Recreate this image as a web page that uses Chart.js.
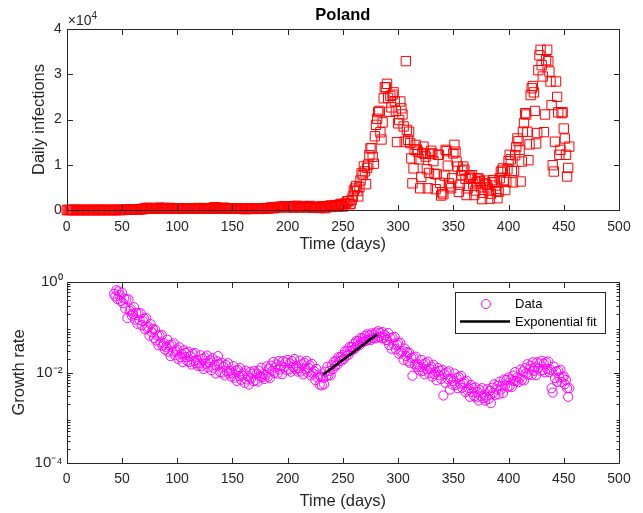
<!DOCTYPE html>
<html lang="en">
<head>
<meta charset="UTF-8">
<title>Poland - daily infections and growth rate</title>
<script src="https://cdn.jsdelivr.net/npm/chart.js@4.4.0/dist/chart.umd.min.js"></script>
<style>
  * { margin:0; padding:0; box-sizing:border-box; }
  body { width:643px; height:513px; background:#fff; position:relative; overflow:hidden; }
  canvas { position:absolute; left:0; }
  #chartCases { top:0; }
  #chartGrowth { top:258px; }
</style>
</head>
<body>
<canvas id="chartCases" width="643" height="258"></canvas>
<canvas id="chartGrowth" width="643" height="255"></canvas>

<script>
// ---- data ----
// daily infections, one value per day starting at day 0
const casesStart = 0;
const cases = [
  0,0,0,0,0,0,0,0,0,0, 0,0,0,0,0,0,0,0,0,0, 0,0,0,0,0,0,0,0,0,0, 0,0,0,0,0,0,0,0,0,0, 0,0,
  1,0,4,1,5,6,5,11,17,19,21,35,52,61,49,46,37,85,115,152,150,98,115,152,170,168,224,193,
  243,392,437,244,475,311,435,357,370,380,268,318,260,336,545,306,263,380,285,461,363,313,263,381,460,285,376,334,248,300,
  300,345,381,325,307,314,403,330,316,310,350,308,268,300,280,396,330,395,315,443,320,272,416,342,292,397,310,313,299,274,300,
  380,292,576,599,575,350,400,282,395,349,370,506,460,392,294,300,262,250,280,301,331,381,305,318,294,272,359,301,282,230,
  240,217,230,300,307,300,299,232,253,268,339,263,299,284,229,358,305,270,318,297,352,373,426,402,584,512,443,410,615,657,586,
  680,658,640,726,743,809,809,602,587,843,832,750,644,575,594,738,903,887,800,549,596,729,832,857,750,601,597,791,900,710,550,
  500,555,624,698,713,527,436,613,757,848,600,400,650,700,800,900,1000,650,700,900,1100,1000,1000,750,1140,1370,1210,
  760,1330,1330,1550,1940,1930,1310,
  1330,2240,3000,4280,4740,5300,4180,
  3000,5070,6530,8100,7710,9620,8540,
  5710,9290,10040,12110,13630,13630,11740,
  10240,16300,18820,20160,21630,21900,17170,
  15580,19360,24690,27140,27090,27880,24790,
  21710,25220,22680,25490,26000,24050,21850,
  15000,19150,19880,23980,22460,21130,18470,
  15100,32900,17700,15500,17300,14800,11400,
  5900,9200,13300,14400,13400,12900,11200,
  4800,7300,12600,14000,12400,11800,9000,
  4800,8200,12400,13100,12500,10800,8000,
  4600,7900,12200,12200,6000,3200,3900,
  3500,7600,13300,13000,9800,5900,5200,
  4800,7000,12500,14400,12900,10700,9600,
  4000,5600,7700,8700,9600,8900,6900,
  3300,4800,6900,7400,7100,7700,5700,
  3300,4300,6100,7000,6900,6400,5000,
  2400,3800,6500,5900,5600,5000,4300,
  2500,3600,6100,6600,6200,5400,4200,
  2600,4000,7000,8400,8700,9200,6600,
  4400,6200,9000,10800,12200,11200,8600,
  6100,8600,12100,13900,15800,15200,13300,
  6300,10700,17300,19200,21400,21100,17300,
  11000,14500,25400,26900,27400,26000,21900,
  14700,17000,30900,34200,35400,32000,29500,
  17200,21100,33100,35400,32900,30600,28400,
  23200,9900,8500,15100,28400,25000,21600,
  12200,13300,21400,21600,18000,15800,12200,
  7400,9300,14000
];

// growth rate, one value per day starting at day 43
const growthStart = 43;
const growth = [
  0.55,0.48,0.66,0.42,0.62,0.52,0.38,
  0.58,0.34,0.43,0.26,0.42,0.16,0.41,0.23,0.25,0.18,
  0.198,0.277,0.148,0.207,0.119,0.205,0.143,0.203,0.111,0.137,
  0.156,0.09,0.159,0.095,0.102,0.065,0.117,0.078,0.092,0.058,
  0.088,0.051,0.066,0.04,0.066,0.046,0.067,0.039,0.044,0.032,
  0.037,0.053,0.029,0.04,0.023,0.041,0.029,0.044,0.024,0.029,
  0.032,0.02,0.036,0.022,0.026,0.017,0.031,0.022,0.027,0.018,
  0.029,0.017,0.023,0.015,0.026,0.018,0.027,0.016,0.019,0.014,
  0.016,0.024,0.0137,0.02,0.0119,0.0215,0.0157,0.0236,0.0131,0.0166,
  0.0186,0.0112,0.0206,0.0128,0.0146,0.0095,0.0178,0.023,0.0155,0.0102,
  0.0164,0.0099,0.0134,0.0086,0.0148,0.0107,0.016,0.0095,0.011,0.0081,
  0.0095,0.0138,0.0077,0.011,0.0065,0.0115,0.0084,0.0125,0.0069,0.0086,
  0.0096,0.0059,0.011,0.007,0.0082,0.0054,0.0104,0.0074,0.0094,0.0064,
  0.0108,0.0067,0.0094,0.0063,0.011,0.0083,0.0127,0.0079,0.0094,0.0072,
  0.0088,0.0136,0.008,0.0122,0.0076,0.0142,0.0108,0.017,0.0098,0.0129,
  0.0151,0.0095,0.0179,0.0116,0.0137,0.0092,0.0179,0.013,0.0166,0.0114,
  0.0189,0.0116,0.016,0.0104,0.0179,0.0132,0.0199,0.012,0.0141,0.0105,
  0.0124,0.0184,0.0105,0.0152,0.0091,0.0164,0.012,0.018,0.01,0.0126,
  0.0144,0.0086,0.0155,0.0095,0.0106,0.0068,0.012,0.0078,0.009,0.0054,
  0.0081,0.0052,0.0077,0.0055,0.0104,0.0083,0.0134,0.0087,0.0108,0.0086,
  0.0144,0.0119,0.0174,0.014,0.0182,0.0149,0.0218,0.0179,0.0221,0.0183,
  0.0242,0.0202,0.0294,0.0234,0.0303,0.0247,0.0366,0.0299,0.0367,0.0313,
  0.0426,0.0343,0.0492,0.0387,0.0495,0.04,0.0578,0.0469,0.0572,0.0479,
  0.0644,0.0502,0.0696,0.0531,0.066,0.0519,0.0732,0.058,0.0691,0.0566,
  0.0759,0.059,0.0816,0.0612,0.0748,0.057,0.0779,0.0589,0.067,0.0522,
  0.0522,0.0743,0.0406,0.0575,0.0336,0.0589,0.0418,0.0609,0.0328,0.041,
  0.0456,0.0259,0.0455,0.0273,0.0296,0.019,0.0338,0.0233,0.0283,0.0176,
  0.0273,0.016,0.0209,0.0085,0.0215,0.0152,0.0224,0.0132,0.015,0.0111,
  0.0131,0.019,0.0107,0.0153,0.0091,0.0161,0.0117,0.0174,0.0096,0.012,
  0.0134,0.0081,0.0148,0.0092,0.0104,0.0067,0.0126,0.0087,0.0109,0.0072,
  0.0114,0.0031,0.0092,0.0059,0.01,0.0072,0.0106,0.0042,0.0073,0.0054,
  0.0065,0.0095,0.0053,0.0076,0.0045,0.0079,0.0057,0.0084,0.0046,0.0057,
  0.0062,0.0037,0.0066,0.004,0.0045,0.0029,0.0053,0.0037,0.0045,0.003,
  0.0047,0.0028,0.0037,0.0024,0.0041,0.003,0.0045,0.0027,0.0032,0.0024,
  0.0029,0.0043,0.0026,0.0039,0.0021,0.0046,0.0035,0.0055,0.0032,0.0042,
  0.005,0.0033,0.0063,0.0042,0.0051,0.0035,0.007,0.0052,0.0068,0.0047,
  0.0078,0.005,0.007,0.0048,0.0085,0.0065,0.0102,0.0065,0.0078,0.0061,
  0.0075,0.0116,0.0069,0.0106,0.0067,0.0125,0.0096,0.0152,0.0089,0.0118,
  0.0142,0.0089,0.0168,0.0109,0.0129,0.0087,0.0169,0.0123,0.0158,0.0109,
  0.0182,0.0114,0.0156,0.0101,0.0169,0.012,0.0175,0.0102,0.0115,0.0045,
  0.0036,0.0135,0.0075,0.0106,0.0062,0.0109,0.0078,0.0115,0.0062,0.0078,
  0.0082,0.0055,0.0068,0.0045,0.0029,0.0045
];

// exponential fit (a straight line on the log axis)
const fitDays = [232, 281];
const fitRate = [0.0089, 0.0697];

const caseTicks = [0, 10000, 20000, 30000, 40000];
const rateTicks = [1e-4, 1e-2, 1];
const rateTickLabels = ['10⁻⁴', '10⁻²', '10⁰'];

// ---- styling helpers ----
const FONT = "'Liberation Sans', Arial, Helvetica, sans-serif";
const AXIS = '#262626';
Chart.defaults.font.family = FONT;
Chart.defaults.color = AXIS;
Chart.defaults.animation = false;

// minor ticks of the log axis (2..9 x each decade)
const minorRate = [];
for (let e = -4; e < 0; e++) for (let k = 2; k < 10; k++) minorRate.push(k * Math.pow(10, e));

// matlab style box with inward ticks
const boxTicks = {
  id: 'boxTicks',
  afterDatasetsDraw(chart, args, o) {
    const {ctx, chartArea:a, scales:{x, y}} = chart;
    const L = Math.round(a.left)+0.5, R = Math.round(a.right)+0.5, T = Math.round(a.top)+0.5, B = Math.round(a.bottom)+0.5;
    ctx.save();
    ctx.strokeStyle = AXIS; ctx.lineWidth = 1;
    ctx.beginPath();
    ctx.rect(L, T, R-L, B-T);
    x.ticks.forEach(t => {
      const p = Math.round(x.getPixelForValue(t.value))+0.5;
      ctx.moveTo(p, B); ctx.lineTo(p, B-5.5);
      ctx.moveTo(p, T); ctx.lineTo(p, T+5.5);
    });
    y.ticks.forEach(t => {
      const p = Math.round(y.getPixelForValue(t.value))+0.5;
      ctx.moveTo(L, p); ctx.lineTo(L+5.5, p);
      ctx.moveTo(R, p); ctx.lineTo(R-5.5, p);
    });
    (o.minor || []).forEach(v => {
      const p = Math.round(y.getPixelForValue(v))+0.5;
      ctx.moveTo(L, p); ctx.lineTo(L+3, p);
      ctx.moveTo(R, p); ctx.lineTo(R-3, p);
    });
    ctx.stroke();
    ctx.restore();
  }
};

// "x10^4" multiplier above the top axis
const scaleNote = {
  id: 'scaleNote',
  afterDraw(chart) {
    const {ctx, chartArea:a} = chart;
    ctx.save();
    ctx.fillStyle = AXIS; ctx.textAlign = 'left'; ctx.textBaseline = 'alphabetic';
    ctx.font = '14px ' + FONT;
    ctx.fillText('×10', a.left + 1, a.top - 4);
    const w = ctx.measureText('×10').width;
    ctx.font = '10px ' + FONT;
    ctx.fillText('4', a.left + 1 + w, a.top - 10);
    ctx.restore();
  }
};

// boxed legend in the top right corner of the lower axes
const boxLegend = {
  id: 'boxLegend',
  afterDraw(chart) {
    const {ctx, chartArea:a} = chart;
    const ds = chart.data.datasets;
    const w = 150, h = 41, l = Math.round(a.right - 14 - w), t = Math.round(a.top + 10);
    ctx.save();
    ctx.fillStyle = '#fff'; ctx.fillRect(l, t, w, h);
    ctx.strokeStyle = AXIS; ctx.lineWidth = 1; ctx.strokeRect(l+0.5, t+0.5, w, h);
    ctx.beginPath(); ctx.arc(l+31, t+12, 4.5, 0, Math.PI*2);
    ctx.strokeStyle = ds[0].borderColor; ctx.stroke();
    ctx.beginPath(); ctx.moveTo(l+5, t+29.5); ctx.lineTo(l+55, t+29.5);
    ctx.strokeStyle = ds[1].borderColor; ctx.lineWidth = ds[1].borderWidth; ctx.stroke();
    ctx.fillStyle = '#000'; ctx.font = '13px ' + FONT;
    ctx.textAlign = 'left'; ctx.textBaseline = 'middle';
    ctx.fillText(ds[0].label, l+60, t+12.5);
    ctx.fillText(ds[1].label, l+60, t+30);
    ctx.restore();
  }
};

const timeAxis = (h, pad, titlePad) => ({
  type:'linear', min:0, max:500,
  ticks:{ stepSize:50, font:{size:14}, padding:pad, maxRotation:0 },
  grid:{ display:false, drawTicks:false }, border:{ display:false },
  title:{ display:true, text:'Time (days)', font:{size:16.5}, padding:{top:0, bottom:titlePad} },
  afterFit: s => { s.height = h; }
});

// ---- top: daily infections ----
new Chart(document.getElementById('chartCases'), {
  type:'scatter',
  data:{ datasets:[{
    label:'Daily infections',
    data: cases.map((v,i) => ({x: casesStart + i, y: v})),
    pointStyle:'rect', pointRadius:6.6, borderWidth:1,
    borderColor:'#ff0000', backgroundColor:'rgba(0,0,0,0)', clip:false
  }]},
  options:{
    responsive:false, devicePixelRatio:1, events:[],
    layout:{ padding:{ left:0, right:24, top:0, bottom:0 } },
    plugins:{
      legend:{display:false}, tooltip:{enabled:false},
      title:{ display:true, text:'Poland', color:'#000', fullSize:false,
              font:{size:16.5, weight:'bold'}, padding:{top:6, bottom:3.2} },
      boxTicks:{}
    },
    scales:{
      x: timeAxis(48, 8.5, 3.5),
      y:{
        type:'linear', min:0, max:40000,
        afterBuildTicks: s => { s.ticks = caseTicks.map(v => ({value:v})); },
        ticks:{ font:{size:14}, padding:5, callback: v => v / 10000 },
        grid:{ display:false, drawTicks:false }, border:{ display:false },
        title:{ display:true, text:'Daily infections', font:{size:16.5}, padding:{top:30, bottom:0} },
        afterFit: s => { s.width = 66.7; }
      }
    }
  },
  plugins:[boxTicks, scaleNote]
});

// ---- bottom: growth rate ----
new Chart(document.getElementById('chartGrowth'), {
  type:'scatter',
  data:{ datasets:[
    { label:'Data', order:1,
      data: growth.map((v,i) => ({x: growthStart + i, y: v})),
      pointStyle:'circle', pointRadius:4.6, borderWidth:1,
      borderColor:'#ff00ff', backgroundColor:'rgba(0,0,0,0)' },
    { label:'Exponential fit', type:'line', order:0,
      data: fitDays.map((d,i) => ({x: d, y: fitRate[i]})),
      borderColor:'#000000', borderWidth:2.6, pointRadius:0, showLine:true, fill:false }
  ]},
  options:{
    responsive:false, devicePixelRatio:1, events:[],
    layout:{ padding:{ left:0, right:24, top:24, bottom:0 } },
    plugins:{ legend:{display:false}, tooltip:{enabled:false}, boxTicks:{ minor: minorRate } },
    scales:{
      x: timeAxis(50, 8, 1.5),
      y:{
        type:'logarithmic', min:1e-4, max:1,
        afterBuildTicks: s => { s.ticks = rateTicks.map(v => ({value:v})); },
        ticks:{ font:{size:15}, padding:4, callback: v => rateTickLabels[rateTicks.indexOf(v)] },
        grid:{ display:false, drawTicks:false }, border:{ display:false },
        title:{ display:true, text:'Growth rate', font:{size:16.5}, padding:{top:10, bottom:0} },
        afterFit: s => { s.width = 66.7; }
      }
    }
  },
  plugins:[boxTicks, boxLegend]
});
</script>
</body>
</html>
